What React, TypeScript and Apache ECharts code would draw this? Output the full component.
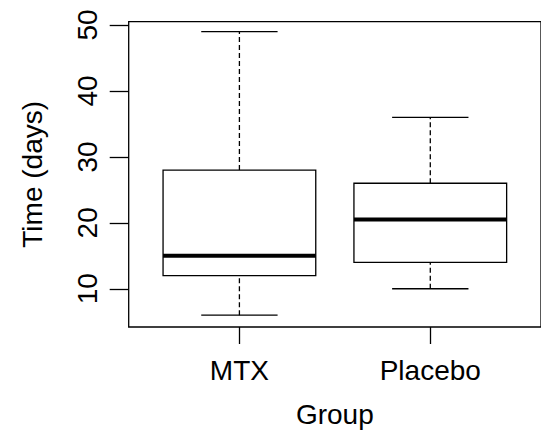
import React, { useEffect, useRef } from "react";
import * as echarts from "echarts";

const categories = ["MTX", "Placebo"];
const positions = [1, 2];
const lowerWhisker = [6, 10];
const q1 = [12, 14];
const median = [15, 20.5];
const q3 = [28, 26];
const upperWhisker = [49, 36];
const yTicks = [10, 20, 30, 40, 50];

const FONT = "'Liberation Sans', Arial, Helvetica, sans-serif";

export default function App() {
  const ref = useRef<HTMLDivElement>(null);
  useEffect(() => {
    if (!ref.current) return;
    const chart = echarts.init(ref.current, null, { renderer: "svg" });
    const data = positions.map((p, i) => [p, lowerWhisker[i], q1[i], median[i], q3[i], upperWhisker[i]]);
    const lw = 1.3;
    chart.setOption({
      animation: false,
      backgroundColor: "#ffffff",
      grid: {
        left: 128.7,
        top: 21.7,
        width: 417,
        height: 307.8,
        show: true,
        borderColor: "#000",
        borderWidth: lw,
        backgroundColor: "transparent",
      },
      xAxis: {
        type: "value",
        min: 0.42,
        max: 2.58,
        splitLine: { show: false },
        axisLine: { show: false },
        axisTick: { show: true, length: 17, customValues: positions, lineStyle: { color: "#000", width: lw } },
        axisLabel: {
          customValues: positions,
          formatter: (v: number) => categories[positions.indexOf(Math.round(v))] ?? "",
          color: "#000",
          fontSize: 28,
          fontFamily: FONT,
          margin: 29,
        },
        name: "Group",
        nameLocation: "middle",
        nameGap: 73,
        nameTextStyle: { color: "#000", fontSize: 28, fontFamily: FONT },
      },
      yAxis: {
        type: "value",
        min: 4.2,
        max: 50.5,
        splitLine: { show: false },
        axisLine: { show: false },
        axisTick: { show: true, length: 19, customValues: yTicks, lineStyle: { color: "#000", width: lw } },
        axisLabel: {
          customValues: yTicks,
          rotate: 90,
          color: "#000",
          fontSize: 28,
          fontFamily: FONT,
          margin: 27,
        },
        name: "Time (days)",
        nameLocation: "middle",
        nameRotate: 90,
        nameGap: 82,
        nameTextStyle: { color: "#000", fontSize: 28, fontFamily: FONT },
      },
      series: [
        {
          type: "custom",
          data,
          encode: { x: 0, y: [1, 2, 3, 4, 5] },
          renderItem: (params: any, api: any) => {
            const x = api.value(0);
            const lo = api.coord([x, api.value(1)]);
            const b1 = api.coord([x, api.value(2)]);
            const md = api.coord([x, api.value(3)]);
            const b3 = api.coord([x, api.value(4)]);
            const hi = api.coord([x, api.value(5)]);
            const boxL = api.coord([x - 0.4, 0])[0];
            const boxR = api.coord([x + 0.4, 0])[0];
            const capL = api.coord([x - 0.2, 0])[0];
            const capR = api.coord([x + 0.2, 0])[0];
            const cx = lo[0];
            const solid = { stroke: "#000", lineWidth: lw, fill: "none" };
            const dashed = { stroke: "#000", lineWidth: lw, lineDash: [5, 3] };
            return {
              type: "group",
              children: [
                { type: "line", shape: { x1: cx, y1: b3[1], x2: cx, y2: hi[1] }, style: dashed },
                { type: "line", shape: { x1: cx, y1: lo[1], x2: cx, y2: b1[1] }, style: dashed },
                { type: "line", shape: { x1: capL, y1: hi[1], x2: capR, y2: hi[1] }, style: solid },
                { type: "line", shape: { x1: capL, y1: lo[1], x2: capR, y2: lo[1] }, style: solid },
                {
                  type: "rect",
                  shape: { x: boxL, y: b3[1], width: boxR - boxL, height: b1[1] - b3[1] },
                  style: { stroke: "#000", lineWidth: lw, fill: "#fff" },
                },
                {
                  type: "line",
                  shape: { x1: boxL, y1: md[1], x2: boxR, y2: md[1] },
                  style: { stroke: "#000", lineWidth: 4, lineCap: "butt" },
                },
              ],
            };
          },
        },
      ],
    });
    return () => chart.dispose();
  }, []);
  return <div ref={ref} style={{ position: "absolute", left: 0, top: 0, width: 541, height: 433 }} />;
}
